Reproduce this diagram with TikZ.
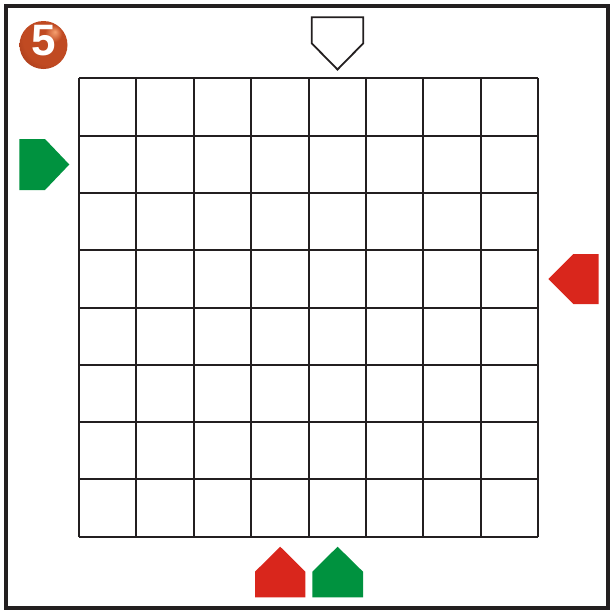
\documentclass[tikz,border=0pt]{standalone}
\usepackage{fontspec}
\setmainfont{Liberation Sans}
\definecolor{gridc}{HTML}{231F20}
\definecolor{mkred}{HTML}{D9261C}
\definecolor{mkgreen}{HTML}{00923F}
\definecolor{bhi}{HTML}{F6A070}
\definecolor{bmid}{HTML}{C04A22}
\definecolor{bdark}{HTML}{7A2410}
\pgfdeclareradialshading{badgeball}{\pgfpoint{12bp}{14bp}}{color(0bp)=(bhi); color(9bp)=(bmid); color(28bp)=(bmid); color(52bp)=(bdark); color(60bp)=(bdark)}
\begin{document}
\begin{tikzpicture}[x=1pt,y=-1pt,
  gridline/.style={line width=2pt, draw=gridc, line cap=square},
  redmark/.style={fill=mkred},
  greenmark/.style={fill=mkgreen},
  plate/.style={draw=gridc, line width=1.8pt, fill=white, line join=miter}]
\useasboundingbox (0,0) rectangle (610,611);
\fill[white] (0,0) rectangle (610,611);
% outer border
\draw[line width=4pt, draw=gridc] (5.5,5.5) rectangle (607.5,608);
% grid
\foreach \i in {0,...,8} {
  \draw[gridline] ({79+\i*57.375},78.3) -- ({79+\i*57.375},536.7);
  \draw[gridline] (79,{78.3+\i*57.3}) -- (538,{78.3+\i*57.3});
}
% badge
\shade[shading=badgeball] (43.5,45) circle (24);
\node[text=white, font=\bfseries\fontsize{44}{44}\selectfont, inner sep=0pt] (badge) at (44,41) {5};
% top home plate
\draw[plate] (311.7,17.3) -- (363.3,17.3) -- (363.3,43.3) -- (337.5,69.5) -- (311.7,43.3) -- cycle;
% left green
\fill[greenmark] (19.3,139) -- (45,139) -- (69.3,164.5) -- (45,190) -- (19.3,190) -- cycle;
% right red
\fill[redmark] (573.3,254) -- (598.7,254) -- (598.7,304) -- (573.3,304) -- (548.3,279) -- cycle;
% bottom red
\fill[redmark] (255,571.7) -- (280.2,546.7) -- (305.3,571.7) -- (305.3,597.3) -- (255,597.3) -- cycle;
% bottom green
\fill[greenmark] (312.3,571.7) -- (337.6,546.7) -- (363,571.7) -- (363,597.3) -- (312.3,597.3) -- cycle;
\end{tikzpicture}
\end{document}
